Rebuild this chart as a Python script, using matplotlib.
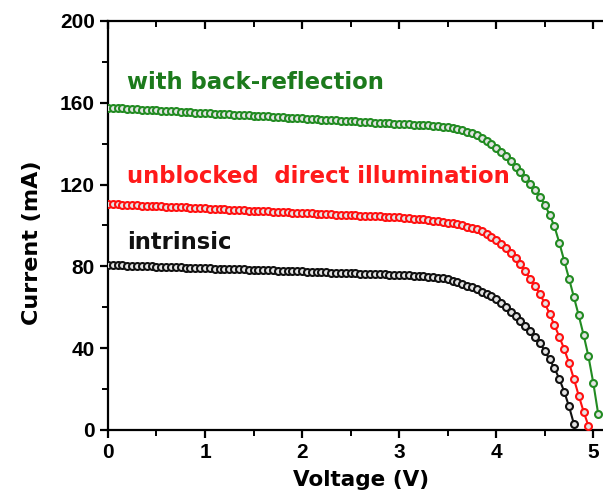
import numpy as np
import matplotlib.pyplot as plt
from matplotlib.ticker import MultipleLocator

# voltage sweep (V), 0.05 V steps
voltage = [
    0.00, 0.05, 0.10, 0.15, 0.20, 0.25, 0.30, 0.35, 0.40, 0.45,
    0.50, 0.55, 0.60, 0.65, 0.70, 0.75, 0.80, 0.85, 0.90, 0.95,
    1.00, 1.05, 1.10, 1.15, 1.20, 1.25, 1.30, 1.35, 1.40, 1.45,
    1.50, 1.55, 1.60, 1.65, 1.70, 1.75, 1.80, 1.85, 1.90, 1.95,
    2.00, 2.05, 2.10, 2.15, 2.20, 2.25, 2.30, 2.35, 2.40, 2.45,
    2.50, 2.55, 2.60, 2.65, 2.70, 2.75, 2.80, 2.85, 2.90, 2.95,
    3.00, 3.05, 3.10, 3.15, 3.20, 3.25, 3.30, 3.35, 3.40, 3.45,
    3.50, 3.55, 3.60, 3.65, 3.70, 3.75, 3.80, 3.85, 3.90, 3.95,
    4.00, 4.05, 4.10, 4.15, 4.20, 4.25, 4.30, 4.35, 4.40, 4.45,
    4.50, 4.55, 4.60, 4.65, 4.70, 4.75, 4.80, 4.85, 4.90, 4.95,
    5.00, 5.05,
]

# current (mA)
current_back = [
    157.6, 157.5, 157.4, 157.2, 157.1, 157.0, 156.8, 156.7, 156.6, 156.4,
    156.3, 156.2, 156.0, 155.9, 155.8, 155.6, 155.5, 155.4, 155.2, 155.1,
    155.0, 154.9, 154.7, 154.6, 154.5, 154.3, 154.2, 154.1, 153.9, 153.8,
    153.7, 153.5, 153.4, 153.3, 153.1, 153.0, 152.9, 152.7, 152.6, 152.5,
    152.3, 152.2, 152.1, 151.9, 151.8, 151.7, 151.5, 151.4, 151.3, 151.1,
    151.0, 150.9, 150.7, 150.6, 150.5, 150.3, 150.2, 150.1, 149.9, 149.8,
    149.7, 149.6, 149.4, 149.3, 149.2, 149.0, 148.9, 148.7, 148.5, 148.3,
    147.9, 147.5, 147.0, 146.5, 145.8, 145.0, 144.0, 142.8, 141.2, 139.7,
    138.0, 136.0, 133.8, 131.4, 128.8, 126.0, 123.3, 120.5, 117.5, 114.0,
    110.2, 105.2, 99.5, 91.5, 82.8, 74.0, 65.0, 56.0, 46.5, 36.0,
    23.0, 8.0,
]
current_direct = [
    110.5, 110.4, 110.3, 110.2, 110.1, 110.0, 109.9, 109.7, 109.6, 109.5,
    109.4, 109.3, 109.2, 109.1, 109.0, 108.9, 108.8, 108.6, 108.5, 108.4,
    108.3, 108.2, 108.1, 108.0, 107.9, 107.8, 107.7, 107.5, 107.4, 107.3,
    107.2, 107.1, 107.0, 106.9, 106.8, 106.7, 106.6, 106.4, 106.3, 106.2,
    106.1, 106.0, 105.9, 105.8, 105.7, 105.6, 105.5, 105.3, 105.2, 105.1,
    105.0, 104.9, 104.8, 104.7, 104.6, 104.5, 104.4, 104.3, 104.2, 104.1,
    104.0, 103.8, 103.6, 103.4, 103.2, 103.0, 102.7, 102.4, 102.1, 101.8,
    101.4, 101.0, 100.5, 100.0, 99.4, 98.8, 98.1, 97.2, 96.0, 94.5,
    92.8, 91.0, 88.9, 86.6, 84.1, 81.0, 77.5, 74.0, 70.3, 66.4,
    62.0, 56.8, 51.2, 45.6, 39.6, 32.8, 25.0, 16.8, 9.0, 2.0,
]
current_intrinsic = [
    80.7, 80.6, 80.5, 80.5, 80.4, 80.3, 80.2, 80.1, 80.1, 80.0,
    79.9, 79.8, 79.7, 79.7, 79.6, 79.5, 79.4, 79.3, 79.3, 79.2,
    79.1, 79.0, 78.9, 78.9, 78.8, 78.7, 78.6, 78.5, 78.5, 78.4,
    78.3, 78.2, 78.1, 78.1, 78.0, 77.9, 77.8, 77.7, 77.7, 77.6,
    77.5, 77.4, 77.3, 77.3, 77.2, 77.1, 77.0, 76.9, 76.9, 76.8,
    76.7, 76.6, 76.5, 76.5, 76.4, 76.3, 76.2, 76.1, 76.0, 75.9,
    75.8, 75.7, 75.6, 75.5, 75.3, 75.2, 75.0, 74.8, 74.5, 74.1,
    73.6, 73.0, 72.3, 71.5, 70.6, 69.7, 68.7, 67.6, 66.5, 65.3,
    64.0, 62.0, 60.0, 57.8, 55.6, 53.3, 51.0, 48.3, 45.5, 42.6,
    38.6, 34.5, 30.2, 25.0, 18.8, 11.5, 3.0,
]

labels = ["with back-reflection", "unblocked  direct illumination", "intrinsic"]
line_colors = ["#228b22", "#ff1010", "#111111"]
text_colors = ["#1c7a1c", "#ff1a1a", "#111111"]

fig = plt.figure(figsize=(6.03, 4.94), dpi=100)
ax = fig.add_axes([0.179, 0.1296, 0.821, 0.828])

series = [current_back, current_direct, current_intrinsic]
for cur, col in zip(series, line_colors):
    v = voltage[:len(cur)]
    ax.plot(v, cur, color=col, lw=1.5, marker="o", ms=5.0, mew=1.5,
            mfc="#e4e4e4", mec=col, zorder=3)

# curve labels
ax.text(0.2, 170, labels[0], color=text_colors[0], fontsize=16.4,
        fontweight="bold", va="center")
ax.text(0.2, 124, labels[1], color=text_colors[1], fontsize=16.4,
        fontweight="bold", va="center")
ax.text(0.2, 91.5, labels[2], color=text_colors[2], fontsize=16.4,
        fontweight="bold", va="center")

ax.set_xlim(0, 5.1)
ax.set_ylim(0, 200)
ax.xaxis.set_major_locator(MultipleLocator(1))
ax.xaxis.set_minor_locator(MultipleLocator(0.5))
ax.yaxis.set_major_locator(MultipleLocator(40))
ax.yaxis.set_minor_locator(MultipleLocator(20))

for s in ["left", "bottom", "top"]:
    ax.spines[s].set_linewidth(1.6)
ax.spines["right"].set_visible(False)

ax.tick_params(axis="both", which="major", direction="out", length=6,
               width=1.6, labelsize=15)
ax.tick_params(axis="both", which="minor", direction="out", length=4,
               width=1.4)
ax.tick_params(axis="x", which="both", top=True)
# top ticks point into the plot
for t in ax.xaxis.get_major_ticks() + ax.xaxis.get_minor_ticks():
    t.tick2line.set_marker(3)
for lab in ax.get_xticklabels() + ax.get_yticklabels():
    lab.set_fontweight("bold")
    lab.set_family("Liberation Sans")

ax.set_xlabel("Voltage (V)", fontsize=15.5, fontweight="bold", va="top")
ax.xaxis.set_label_coords(0.511, -0.098)
ax.set_ylabel("Current (mA)", fontsize=16, fontweight="bold", va="center")
ax.yaxis.set_label_coords(-0.154, 0.457)

fig.savefig("out.png", dpi=100)
